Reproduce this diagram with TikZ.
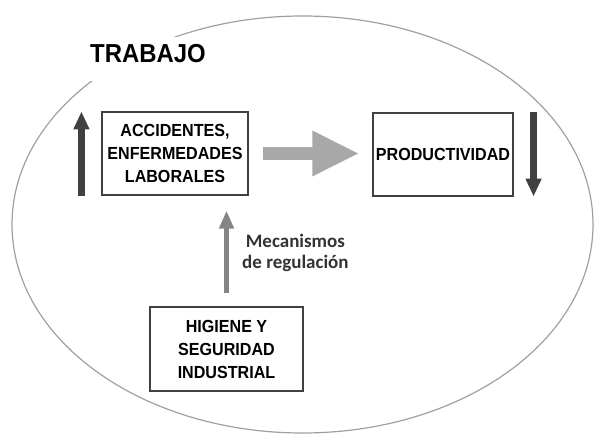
\documentclass[tikz,border=0pt]{standalone}
\usepackage{fontspec}
\setmainfont{Liberation Sans}
\newfontfamily\boxfont[FakeStretch=0.92]{Liberation Sans}
\newfontfamily\notefont{Carlito}
\usetikzlibrary{arrows.meta,positioning,calc}
\definecolor{darkarrow}{HTML}{404040}
\definecolor{midarrow}{HTML}{858585}
\definecolor{lightarrow}{HTML}{A8A8A8}
\definecolor{rim}{HTML}{A0A0A0}
\tikzset{box/.style={rectangle,draw=black!75,line width=1.1pt,align=center,
inner sep=0pt, font=\boxfont\fontsize{17.5}{23}\selectfont\bfseries},
title/.style={rectangle,fill=white,inner xsep=10pt,inner ysep=8pt,text depth=10pt,
font=\boxfont\fontsize{26}{26}\selectfont\bfseries},
note/.style={align=center,inner sep=1pt,text=black!80,
font=\notefont\fontsize{19}{21}\selectfont\bfseries},
rimline/.style={draw=rim,line width=1.2pt},
trend/.style={draw=darkarrow,line width=6.5pt,-{Triangle[width=15pt,length=18pt]}},
cause/.style={draw=lightarrow,line width=13pt,-{Triangle[width=42pt,length=47pt]}},
rule/.style={draw=midarrow,line width=5pt,-{Triangle[width=14pt,length=18pt]}}}
\begin{document}
\begin{tikzpicture}[x=1pt,y=-1pt]
  \useasboundingbox (0,0) rectangle (594,435);
  \draw [rimline] (302.5,224.5) ellipse [x radius=290.5, y radius=208.5];

  \node (trabajo) [title,anchor=base] at (148,63) {TRABAJO};

  \node (acc) [box,minimum width=146pt,minimum height=83pt] at (175,153.5)
    {ACCIDENTES,\\ENFERMEDADES\\LABORALES};
  \node (prod) [box,minimum width=140pt,minimum height=83pt] at (443,154.5)
    {PRODUCTIVIDAD};
  \node (hig) [box,minimum width=153pt,minimum height=84pt] at (226.5,349)
    {HIGIENE Y\\SEGURIDAD\\INDUSTRIAL};

  \draw [trend] ($(acc.south west)+(-20,0)$) -- ($(acc.north west)+(-20,0)$);
  \draw [trend] ($(prod.north east)+(20,0)$) -- ($(prod.south east)+(20,0)$);
  \draw [cause,shorten <=14pt,shorten >=13pt] (acc.east) -- (acc.east -| prod.west);
  \draw [rule,shorten <=13pt,shorten >=15pt] (hig.north) -- (hig.north |- acc.south);

  \node (mec) [note,anchor=west] at (241,253) {Mecanismos\\de regulación};
\end{tikzpicture}
\end{document}
